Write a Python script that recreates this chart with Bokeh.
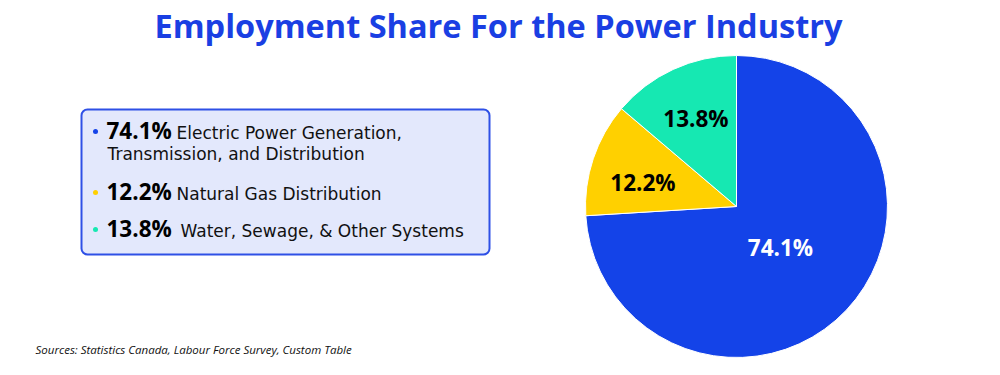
import math
from bokeh.plotting import figure
from bokeh.models import BoxAnnotation, ColumnDataSource
from bokeh.core.properties import value
from bokeh.embed import file_html
from bokeh.resources import INLINE

# ---- data ----
categories = ["Electric Power Generation, Transmission, and Distribution",
              "Natural Gas Distribution",
              "Water, Sewage, & Other Systems"]
legend_lines = [["Electric Power Generation,", "Transmission, and Distribution"],
                ["Natural Gas Distribution"],
                ["Water, Sewage, & Other Systems"]]
shares = [74.1, 12.2, 13.8]
share_labels = ["74.1%", "12.2%", "13.8%"]
colors = ["#1443E8", "#FFD000", "#16E8B2"]
label_colors = ["white", "black", "black"]
title = "Employment Share For the Power Industry"
source_note = "Sources: Statistics Canada, Labour Force Survey, Custom Table"

FONT = "Open Sans"
FONT2 = "DejaVu Sans"
W, H = 984, 359

p = figure(width=W, height=H, x_range=(0, W), y_range=(375 - H, 375),
           output_backend="svg", toolbar_location=None, min_border=0)
p.axis.visible = False
p.grid.visible = False
p.outline_line_color = None
p.background_fill_color = "white"
p.border_fill_color = "white"

def Y(py):
    return 375 - py

# ---- title ----
p.text(x=[498], y=[Y(25)], text=[title], text_align="center", text_baseline="middle",
       text_font=value(FONT), text_font_style="bold", text_font_size="32.5px",
       text_color="#1A3FE3")

# ---- pie (clockwise from 12 o'clock) ----
cx, cy, R = 736, Y(206), 151
total = sum(shares)
starts_ccw, ends_ccw = [0]*3, [0]*3
a = 90.0
for i in [2, 1, 0]:
    span = shares[i] / total * 360.0
    starts_ccw[i] = a
    ends_ccw[i] = a + span
    a += span
src = ColumnDataSource(dict(x=[cx]*3, y=[cy]*3,
                            start=[math.radians(s) for s in starts_ccw],
                            end=[math.radians(e) for e in ends_ccw],
                            color=colors))
p.wedge(x="x", y="y", radius=R, start_angle="start", end_angle="end",
        fill_color="color", line_color="white", line_width=1, source=src)

lx, ly = [], []
for i in range(3):
    mid = math.radians((starts_ccw[i] + ends_ccw[i]) / 2 + (4 if shares[i] < 13 else 0))
    frac = 0.40 if shares[i] > 50 else 0.64
    lx.append(cx + frac * R * math.cos(mid))
    ly.append(cy + frac * R * math.sin(mid))
p.text(x=lx, y=ly, text=share_labels, text_color=label_colors,
       text_align="center", text_baseline="middle", text_font=value(FONT),
       text_font_style="bold", text_font_size="22.5px")

# ---- legend box ----
box = BoxAnnotation(left=81, right=489, bottom=Y(254), top=Y(109),
                    fill_color="#E3E8FC", fill_alpha=1.0, line_color="#2E50E6",
                    line_alpha=1.0, line_width=2, border_radius=6, level="underlay")
p.add_layout(box)

row_y = [131, 192, 229]
p.scatter(x=[95]*3, y=[Y(v) for v in row_y], size=5, color=colors, line_color=None)
p.text(x=[106]*3, y=[Y(v - 1) for v in row_y], text=share_labels, text_color="black",
       text_align="left", text_baseline="middle", text_font=value(FONT),
       text_font_style="bold", text_font_size="22.5px")
text_x = [176, 176, 180]
for i, lines in enumerate(legend_lines):
    for j, line in enumerate(lines):
        xx = text_x[i] if j == 0 else 107
        p.text(x=[xx], y=[Y(row_y[i] + 1 + 21 * j)], text=[line], text_color="#111111",
               text_align="left", text_baseline="middle", text_font=value(FONT2),
               text_font_size="17px")

# ---- source note ----
p.text(x=[35], y=[Y(349)], text=[source_note], text_color="#111111",
       text_align="left", text_baseline="middle", text_font=value(FONT),
       text_font_style="italic", text_font_size="11.5px")

open("out.html", "w").write(file_html(p, INLINE))
